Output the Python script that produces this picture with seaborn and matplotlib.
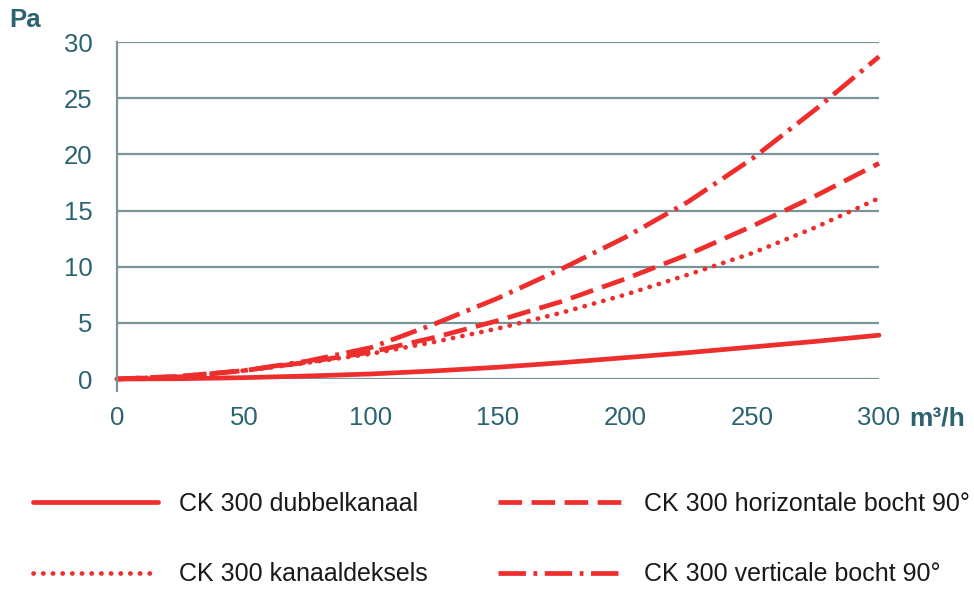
import numpy as np
import pandas as pd
import matplotlib
matplotlib.use("Agg")
import matplotlib.pyplot as plt
import seaborn as sns

# airflow (m3/h) and pressure loss (Pa)
airflow = [0, 25, 50, 75, 100, 125, 150, 175, 200, 225, 250, 275, 300]
dubbelkanaal = [0, 0.03, 0.12, 0.27, 0.45, 0.72, 1.05, 1.45, 1.9, 2.35, 2.85, 3.35, 3.9]
kanaaldeksels = [0, 0.25, 0.75, 1.45, 2.25, 3.3, 4.5, 5.9, 7.5, 9.3, 11.2, 13.5, 16.1]
horizontale = [0, 0.25, 0.75, 1.5, 2.4, 3.7, 5.2, 6.9, 8.9, 11.1, 13.6, 16.3, 19.2]
verticale = [0, 0.2, 0.75, 1.6, 2.8, 4.9, 7.2, 9.8, 12.6, 15.8, 19.6, 24.0, 28.7]

labels = ["CK 300 dubbelkanaal", "CK 300 kanaaldeksels",
          "CK 300 horizontale bocht 90°", "CK 300 verticale bocht 90°"]
x_ticks = [0, 50, 100, 150, 200, 250, 300]
y_ticks = [0, 5, 10, 15, 20, 25, 30]

red = "#ee2d2d"
grid = "#7a9399"
teal = "#2b6470"

sns.set_theme(style="white")
plt.rcParams['font.family'] = ['Liberation Sans', 'DejaVu Sans']

fig = plt.figure(figsize=(9.74, 5.90), dpi=100)
ax = fig.add_axes([0.1201, 0.3576, 0.7824, 0.5712])

series = [dubbelkanaal, kanaaldeksels, horizontale, verticale]
dashes = [None, (0.05, 2.0), (5.0, 2.0), (5.8, 1.6, 0.8, 1.6)]
handles = []
for vals, lab, ds in zip(series, labels, dashes):
    sns.lineplot(x=airflow, y=vals, ax=ax, color=red, linewidth=3.4, label=lab)
    ln = ax.lines[-1]
    if ds is not None:
        ln.set_dashes(ds)
        ln.set_dash_capstyle('round' if ds[0] < 1 else 'butt')
    ln.set_clip_on(False)
    handles.append(ln)

ax.set_xlim(0, 300)
ax.set_ylim(0, 30)
ax.set_xticks(x_ticks)
ax.set_yticks(y_ticks)
ax.yaxis.grid(True, color=grid, linewidth=1.6)
ax.xaxis.grid(False)
for s in ['top', 'right', 'bottom']:
    ax.spines[s].set_visible(False)
ax.spines['left'].set_color(grid)
ax.spines['left'].set_linewidth(1.6)
ax.spines['left'].set_bounds(-1.05, 30)
ax.tick_params(axis='both', direction='out', length=8.5, width=1.6, color=grid,
               labelsize=18.5, labelcolor=teal)
ax.tick_params(axis='y', pad=9, length=8.5)
ax.tick_params(axis='x', pad=11)
ax.set_xlabel("")
ax.set_ylabel("")

fig.text(0.010, 0.966, "Pa", fontsize=18.5, fontweight='bold', color=teal, va='center', ha='left')
fig.text(0.934, 0.291, "m³/h", fontsize=19, fontweight='bold', color=teal, va='center', ha='left')

ax.get_legend().remove()
fig.legend(handles=handles, labels=labels, ncol=2, frameon=False,
           loc='upper left', bbox_to_anchor=(0.034, 0.166), borderaxespad=0, borderpad=0,
           fontsize=18, handlelength=5.0, handletextpad=0.85, columnspacing=2.8,
           labelspacing=1.85, labelcolor="#1a1a1a")

fig.savefig("out.png", dpi=100)
